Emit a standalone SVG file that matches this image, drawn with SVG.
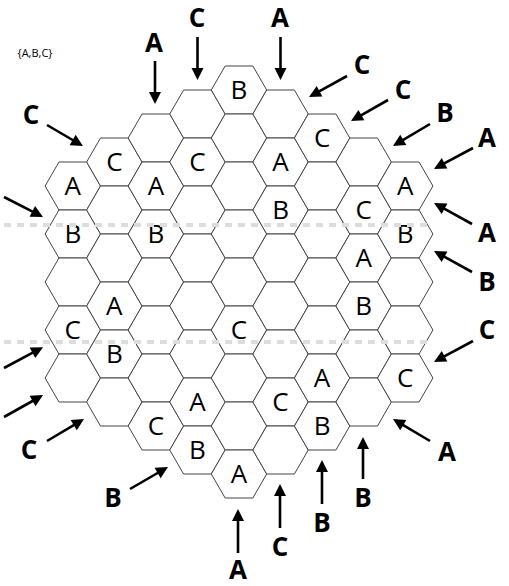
<svg xmlns="http://www.w3.org/2000/svg" xmlns:xlink="http://www.w3.org/1999/xlink" width="509" height="586" viewBox="0 0 509 586">
<style>
.hex{fill:#fff;stroke:#444;stroke-width:1}
.cl{font-family:"Open Sans","DejaVu Sans",sans-serif;font-size:26px;fill:#000;text-anchor:middle}
.al{font-family:"Open Sans","DejaVu Sans",sans-serif;font-size:26px;font-weight:bold;fill:#000;text-anchor:middle}
.arr{stroke:#000;stroke-width:2.6;fill:none;marker-end:url(#ah)}
.dash{stroke:#ddd;stroke-width:4;stroke-dasharray:7 6;fill:none}
.note{font-family:"Open Sans","DejaVu Sans",sans-serif;font-size:11px;fill:#000;text-anchor:middle}
</style>
<defs>
<path id="h" class="hex" d="M-27.7,0 L-13.85,-24 L13.85,-24 L27.7,0 L13.85,24 L-13.85,24 Z"/>
<marker id="ah" markerUnits="userSpaceOnUse" markerWidth="13" markerHeight="13" refX="3" refY="6" orient="auto" overflow="visible">
<path d="M0,0 L12,6 L0,12 Z" fill="#000"/>
</marker>
</defs>
<rect width="509" height="586" fill="#fff"/>
<text class="note" x="35" y="57">{A,B,C}</text>
<g id="cells">
<g id="c_m4_0"><use xlink:href="#h" x="72.8" y="186"/><text class="cl" x="72.8" y="195.3">A</text></g>
<g id="c_m4_1"><use xlink:href="#h" x="72.8" y="234"/><text class="cl" x="72.8" y="243.3">B</text></g>
<g id="c_m4_2"><use xlink:href="#h" x="72.8" y="282"/></g>
<g id="c_m4_3"><use xlink:href="#h" x="72.8" y="330"/><text class="cl" x="72.8" y="339.3">C</text></g>
<g id="c_m4_4"><use xlink:href="#h" x="72.8" y="378"/></g>
<g id="c_m3_0"><use xlink:href="#h" x="114.35" y="162"/><text class="cl" x="114.35" y="171.3">C</text></g>
<g id="c_m3_1"><use xlink:href="#h" x="114.35" y="210"/></g>
<g id="c_m3_2"><use xlink:href="#h" x="114.35" y="258"/></g>
<g id="c_m3_3"><use xlink:href="#h" x="114.35" y="306"/><text class="cl" x="114.35" y="315.3">A</text></g>
<g id="c_m3_4"><use xlink:href="#h" x="114.35" y="354"/><text class="cl" x="114.35" y="363.3">B</text></g>
<g id="c_m3_5"><use xlink:href="#h" x="114.35" y="402"/></g>
<g id="c_m2_0"><use xlink:href="#h" x="155.9" y="138"/></g>
<g id="c_m2_1"><use xlink:href="#h" x="155.9" y="186"/><text class="cl" x="155.9" y="195.3">A</text></g>
<g id="c_m2_2"><use xlink:href="#h" x="155.9" y="234"/><text class="cl" x="155.9" y="243.3">B</text></g>
<g id="c_m2_3"><use xlink:href="#h" x="155.9" y="282"/></g>
<g id="c_m2_4"><use xlink:href="#h" x="155.9" y="330"/></g>
<g id="c_m2_5"><use xlink:href="#h" x="155.9" y="378"/></g>
<g id="c_m2_6"><use xlink:href="#h" x="155.9" y="426"/><text class="cl" x="155.9" y="435.3">C</text></g>
<g id="c_m1_0"><use xlink:href="#h" x="197.45" y="114"/></g>
<g id="c_m1_1"><use xlink:href="#h" x="197.45" y="162"/><text class="cl" x="197.45" y="171.3">C</text></g>
<g id="c_m1_2"><use xlink:href="#h" x="197.45" y="210"/></g>
<g id="c_m1_3"><use xlink:href="#h" x="197.45" y="258"/></g>
<g id="c_m1_4"><use xlink:href="#h" x="197.45" y="306"/></g>
<g id="c_m1_5"><use xlink:href="#h" x="197.45" y="354"/></g>
<g id="c_m1_6"><use xlink:href="#h" x="197.45" y="402"/><text class="cl" x="197.45" y="411.3">A</text></g>
<g id="c_m1_7"><use xlink:href="#h" x="197.45" y="450"/><text class="cl" x="197.45" y="459.3">B</text></g>
<g id="c_0_0"><use xlink:href="#h" x="239" y="90"/><text class="cl" x="239" y="99.3">B</text></g>
<g id="c_0_1"><use xlink:href="#h" x="239" y="138"/></g>
<g id="c_0_2"><use xlink:href="#h" x="239" y="186"/></g>
<g id="c_0_3"><use xlink:href="#h" x="239" y="234"/></g>
<g id="c_0_4"><use xlink:href="#h" x="239" y="282"/></g>
<g id="c_0_5"><use xlink:href="#h" x="239" y="330"/><text class="cl" x="239" y="339.3">C</text></g>
<g id="c_0_6"><use xlink:href="#h" x="239" y="378"/></g>
<g id="c_0_7"><use xlink:href="#h" x="239" y="426"/></g>
<g id="c_0_8"><use xlink:href="#h" x="239" y="474"/><text class="cl" x="239" y="483.3">A</text></g>
<g id="c_p1_0"><use xlink:href="#h" x="280.55" y="114"/></g>
<g id="c_p1_1"><use xlink:href="#h" x="280.55" y="162"/><text class="cl" x="280.55" y="171.3">A</text></g>
<g id="c_p1_2"><use xlink:href="#h" x="280.55" y="210"/><text class="cl" x="280.55" y="219.3">B</text></g>
<g id="c_p1_3"><use xlink:href="#h" x="280.55" y="258"/></g>
<g id="c_p1_4"><use xlink:href="#h" x="280.55" y="306"/></g>
<g id="c_p1_5"><use xlink:href="#h" x="280.55" y="354"/></g>
<g id="c_p1_6"><use xlink:href="#h" x="280.55" y="402"/><text class="cl" x="280.55" y="411.3">C</text></g>
<g id="c_p1_7"><use xlink:href="#h" x="280.55" y="450"/></g>
<g id="c_p2_0"><use xlink:href="#h" x="322.1" y="138"/><text class="cl" x="322.1" y="147.3">C</text></g>
<g id="c_p2_1"><use xlink:href="#h" x="322.1" y="186"/></g>
<g id="c_p2_2"><use xlink:href="#h" x="322.1" y="234"/></g>
<g id="c_p2_3"><use xlink:href="#h" x="322.1" y="282"/></g>
<g id="c_p2_4"><use xlink:href="#h" x="322.1" y="330"/></g>
<g id="c_p2_5"><use xlink:href="#h" x="322.1" y="378"/><text class="cl" x="322.1" y="387.3">A</text></g>
<g id="c_p2_6"><use xlink:href="#h" x="322.1" y="426"/><text class="cl" x="322.1" y="435.3">B</text></g>
<g id="c_p3_0"><use xlink:href="#h" x="363.65" y="162"/></g>
<g id="c_p3_1"><use xlink:href="#h" x="363.65" y="210"/><text class="cl" x="363.65" y="219.3">C</text></g>
<g id="c_p3_2"><use xlink:href="#h" x="363.65" y="258"/><text class="cl" x="363.65" y="267.3">A</text></g>
<g id="c_p3_3"><use xlink:href="#h" x="363.65" y="306"/><text class="cl" x="363.65" y="315.3">B</text></g>
<g id="c_p3_4"><use xlink:href="#h" x="363.65" y="354"/></g>
<g id="c_p3_5"><use xlink:href="#h" x="363.65" y="402"/></g>
<g id="c_p4_0"><use xlink:href="#h" x="405.2" y="186"/><text class="cl" x="405.2" y="195.3">A</text></g>
<g id="c_p4_1"><use xlink:href="#h" x="405.2" y="234"/><text class="cl" x="405.2" y="243.3">B</text></g>
<g id="c_p4_2"><use xlink:href="#h" x="405.2" y="282"/></g>
<g id="c_p4_3"><use xlink:href="#h" x="405.2" y="330"/></g>
<g id="c_p4_4"><use xlink:href="#h" x="405.2" y="378"/><text class="cl" x="405.2" y="387.3">C</text></g>
</g>
<g id="dashes">
<line class="dash" x1="4" y1="225" x2="428" y2="225"/>
<line class="dash" x1="4" y1="342" x2="428" y2="342"/>
</g>
<g id="connectors">
<line class="arr" x1="197.5" y1="37" x2="197.5" y2="71"/>
<line class="arr" x1="155" y1="61" x2="155" y2="95"/>
<line class="arr" x1="280.5" y1="37" x2="280.5" y2="71"/>
<line class="arr" x1="347" y1="76" x2="316.9" y2="92.6"/>
<line class="arr" x1="388" y1="100" x2="358.8" y2="116.6"/>
<line class="arr" x1="430" y1="124" x2="400.7" y2="141.4"/>
<line class="arr" x1="473" y1="148" x2="441.9" y2="164.7"/>
<line class="arr" x1="472" y1="224" x2="441.9" y2="207.4"/>
<line class="arr" x1="472" y1="272" x2="441.9" y2="255.4"/>
<line class="arr" x1="473" y1="341" x2="441.9" y2="357.7"/>
<line class="arr" x1="430" y1="441" x2="400.7" y2="423.6"/>
<line class="arr" x1="363" y1="479" x2="363" y2="446"/>
<line class="arr" x1="322" y1="504" x2="322" y2="469"/>
<line class="arr" x1="280" y1="528" x2="280" y2="493"/>
<line class="arr" x1="238" y1="553" x2="238" y2="518"/>
<line class="arr" x1="130" y1="489" x2="160.2" y2="471.5"/>
<line class="arr" x1="47" y1="441" x2="76.3" y2="423.6"/>
<line class="arr" x1="4" y1="417" x2="35.2" y2="399.5"/>
<line class="arr" x1="4" y1="368" x2="35.1" y2="351.4"/>
<line class="arr" x1="4" y1="197" x2="35" y2="212.8"/>
<line class="arr" x1="47" y1="125" x2="75.2" y2="141.5"/>
</g>
<g id="labels">
<text class="al" x="197" y="27">C</text>
<text class="al" x="154" y="52">A</text>
<text class="al" x="280" y="27">A</text>
<text class="al" x="362" y="74">C</text>
<text class="al" x="403" y="99">C</text>
<text class="al" x="445" y="122">B</text>
<text class="al" x="487" y="147">A</text>
<text class="al" x="487" y="242">A</text>
<text class="al" x="487" y="291">B</text>
<text class="al" x="487" y="339">C</text>
<text class="al" x="447" y="461">A</text>
<text class="al" x="363" y="507">B</text>
<text class="al" x="322" y="532">B</text>
<text class="al" x="280" y="556">C</text>
<text class="al" x="238" y="579">A</text>
<text class="al" x="113" y="507">B</text>
<text class="al" x="29" y="459">C</text>
<text class="al" x="31" y="124">C</text>
</g>
</svg>
